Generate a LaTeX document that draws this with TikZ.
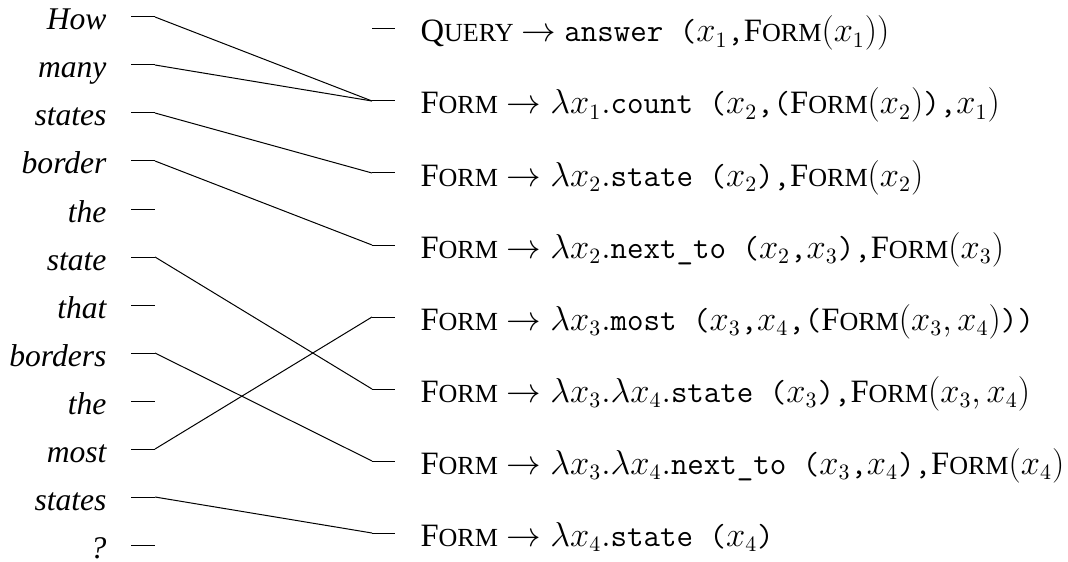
\documentclass[tikz,border=0pt]{standalone}
\usepackage{fontspec}
\setmainfont{Liberation Serif}
\usepackage{graphicx}
\newcommand\Fm{F\scalebox{0.8}{ORM}}
\newcommand\Qy{Q\scalebox{0.8}{UERY}}
\newcommand\tx[1]{{\fontsize{16}{18}\selectfont\ttfamily #1}}
\begin{document}
\begin{tikzpicture}[x=0.5pt,y=-0.5pt,line width=0.5pt,
  word/.style={anchor=base east,inner sep=0pt,font=\fontsize{15.8}{18}\selectfont\itshape},
  rulebox/.style={anchor=base west,inner sep=0pt,font=\fontsize{16.3}{20}\selectfont},
  link/.style={line width=0.5pt}]
\useasboundingbox (0,0) rectangle (1068,561);
% words
\foreach \w [count=\i] in {How,many,states,border,the,state,that,borders,the,most,states,?} {
  \pgfmathsetmacro\yy{17+48*(\i-1)}
  \node[word] (w\i) at (107,\yy+13) {\w};
  \coordinate (wa\i) at (131,\yy);
  \coordinate (wb\i) at (155,\yy);
  \draw[link] (wa\i) -- (wb\i);
}
% rule dashes
\foreach \j in {1,...,8} {
  \pgfmathsetmacro\yy{29+72*(\j-1)}
  \coordinate (ra\j) at (372,\yy);
  \coordinate (rb\j) at (395,\yy);
  \coordinate (rt\j) at (420,\yy+13);
  \draw[link] (ra\j) -- (rb\j);
}
% rules
\node[rulebox] (r1) at (rt1) {\Qy{} $\rightarrow$ \tx{answer (}$x_1$\tx{,}\Fm$(x_1))$};
\node[rulebox] (r2) at (rt2) {\Fm{} $\rightarrow \lambda x_1.$\tx{count (}$x_2$\tx{,(}\Fm$(x_2)$\tx{),}$x_1)$};
\node[rulebox] (r3) at (rt3) {\Fm{} $\rightarrow \lambda x_2.$\tx{state (}$x_2$\tx{),}\Fm$(x_2)$};
\node[rulebox] (r4) at (rt4) {\Fm{} $\rightarrow \lambda x_2.$\tx{next\_to (}$x_2$\tx{,}$x_3$\tx{),}\Fm$(x_3)$};
\node[rulebox] (r5) at (rt5) {\Fm{} $\rightarrow \lambda x_3.$\tx{most (}$x_3$\tx{,}$x_4$\tx{,(}\Fm$(x_3,x_4)$\tx{))}};
\node[rulebox] (r6) at (rt6) {\Fm{} $\rightarrow \lambda x_3.\lambda x_4.$\tx{state (}$x_3$\tx{),}\Fm$(x_3,x_4)$};
\node[rulebox] (r7) at (rt7) {\Fm{} $\rightarrow \lambda x_3.\lambda x_4.$\tx{next\_to (}$x_3$\tx{,}$x_4$\tx{),}\Fm$(x_4)$};
\node[rulebox] (r8) at (rt8) {\Fm{} $\rightarrow \lambda x_4.$\tx{state (}$x_4$\tx{)}};
% alignments
\draw[link] (wb1) -- (ra2);
\draw[link] (wb2) -- (ra2);
\draw[link] (wb3) -- (ra3);
\draw[link] (wb4) -- (ra4);
\draw[link] (wb6) -- (ra6);
\draw[link] (wb8) -- (ra7);
\draw[link] (wb10) -- (ra5);
\draw[link] (wb11) -- (ra8);
\end{tikzpicture}
\end{document}
